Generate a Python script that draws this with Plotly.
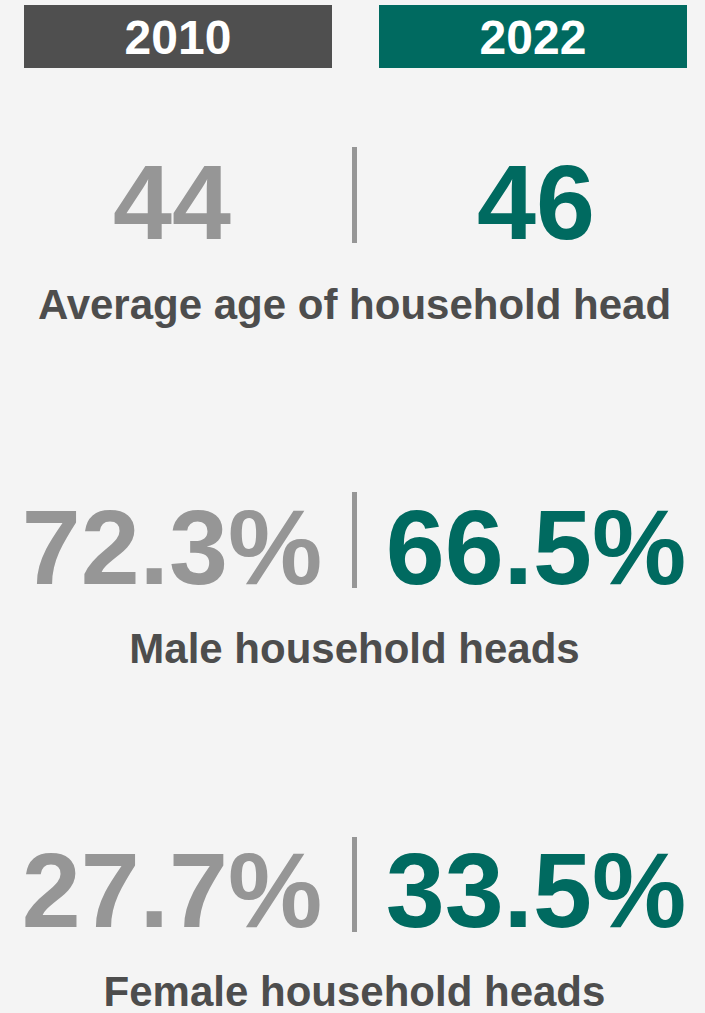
import plotly.graph_objects as go

# ---- data ----
years = ["2010", "2022"]
metrics = ["Average age of household head", "Male household heads", "Female household heads"]
values_2010 = [44, 72.3, 27.7]
values_2022 = [46, 66.5, 33.5]
is_percent = [False, True, True]

# ---- style / layout ----
W, H = 705, 1013
BG = "#f4f4f4"
GRAY = "#969696"
DARK = "#4f4f4f"
TEAL = "#006a60"
LABEL = "#4d4d4d"
FONT = "Liberation Sans, Arial, Helvetica, sans-serif"

col_x = [172, 536]          # centres of the value columns
box_x = [(24, 332), (379, 687)]
box_y = (5, 68)
div_x = 354.5
row_num_y = [212, 557, 900]
row_lab_y = [308, 652.5, 995.5]
div_span = [(147, 243), (492, 588), (837, 932)]


def fmt(v, pct):
    return f"{v:.1f}%" if pct else f"{v:.0f}"


fig = go.Figure()

shapes = []
# header boxes
for (x0, x1), c in zip(box_x, [DARK, TEAL]):
    shapes.append(dict(type="rect", x0=x0, x1=x1, y0=box_y[0], y1=box_y[1],
                       fillcolor=c, line=dict(width=0), layer="below"))
# dividers
for y0, y1 in div_span:
    shapes.append(dict(type="line", x0=div_x, x1=div_x, y0=y0, y1=y1,
                       line=dict(color=GRAY, width=5)))

# header year labels
fig.add_trace(go.Scatter(
    x=[(a + b) / 2 for a, b in box_x], y=[(box_y[0] + box_y[1]) / 2 + 5.5] * 2,
    text=years, mode="text", textposition="middle center",
    textfont=dict(family=FONT, size=48, color="white", weight="bold"),
    hoverinfo="skip", cliponaxis=False, showlegend=False))

# 2010 values
fig.add_trace(go.Scatter(
    x=[col_x[0]] * len(values_2010), y=row_num_y,
    text=[fmt(v, p) for v, p in zip(values_2010, is_percent)],
    mode="text", textposition="middle center",
    textfont=dict(family=FONT, size=106, color=GRAY, weight="bold"),
    hoverinfo="skip", cliponaxis=False, showlegend=False))

# 2022 values
fig.add_trace(go.Scatter(
    x=[col_x[1]] * len(values_2022), y=row_num_y,
    text=[fmt(v, p) for v, p in zip(values_2022, is_percent)],
    mode="text", textposition="middle center",
    textfont=dict(family=FONT, size=106, color=TEAL, weight="bold"),
    hoverinfo="skip", cliponaxis=False, showlegend=False))

# metric labels
fig.add_trace(go.Scatter(
    x=[div_x] * len(metrics), y=row_lab_y, text=metrics,
    mode="text", textposition="middle center",
    textfont=dict(family=FONT, size=42, color=LABEL, weight="bold"),
    hoverinfo="skip", cliponaxis=False, showlegend=False))

fig.update_layout(
    width=W, height=H,
    margin=dict(l=0, r=0, t=0, b=0),
    paper_bgcolor=BG, plot_bgcolor=BG,
    shapes=shapes,
    xaxis=dict(range=[0, W], visible=False, fixedrange=True),
    yaxis=dict(range=[H, 0], visible=False, fixedrange=True),
    showlegend=False,
)

fig.write_html(
    "out.html",
    config={"displayModeBar": False},
    post_script="document.body.style.margin='0';document.body.style.padding='0';"
                "document.body.style.background='#f4f4f4';"
                "document.body.style.overflow='hidden';",
)
